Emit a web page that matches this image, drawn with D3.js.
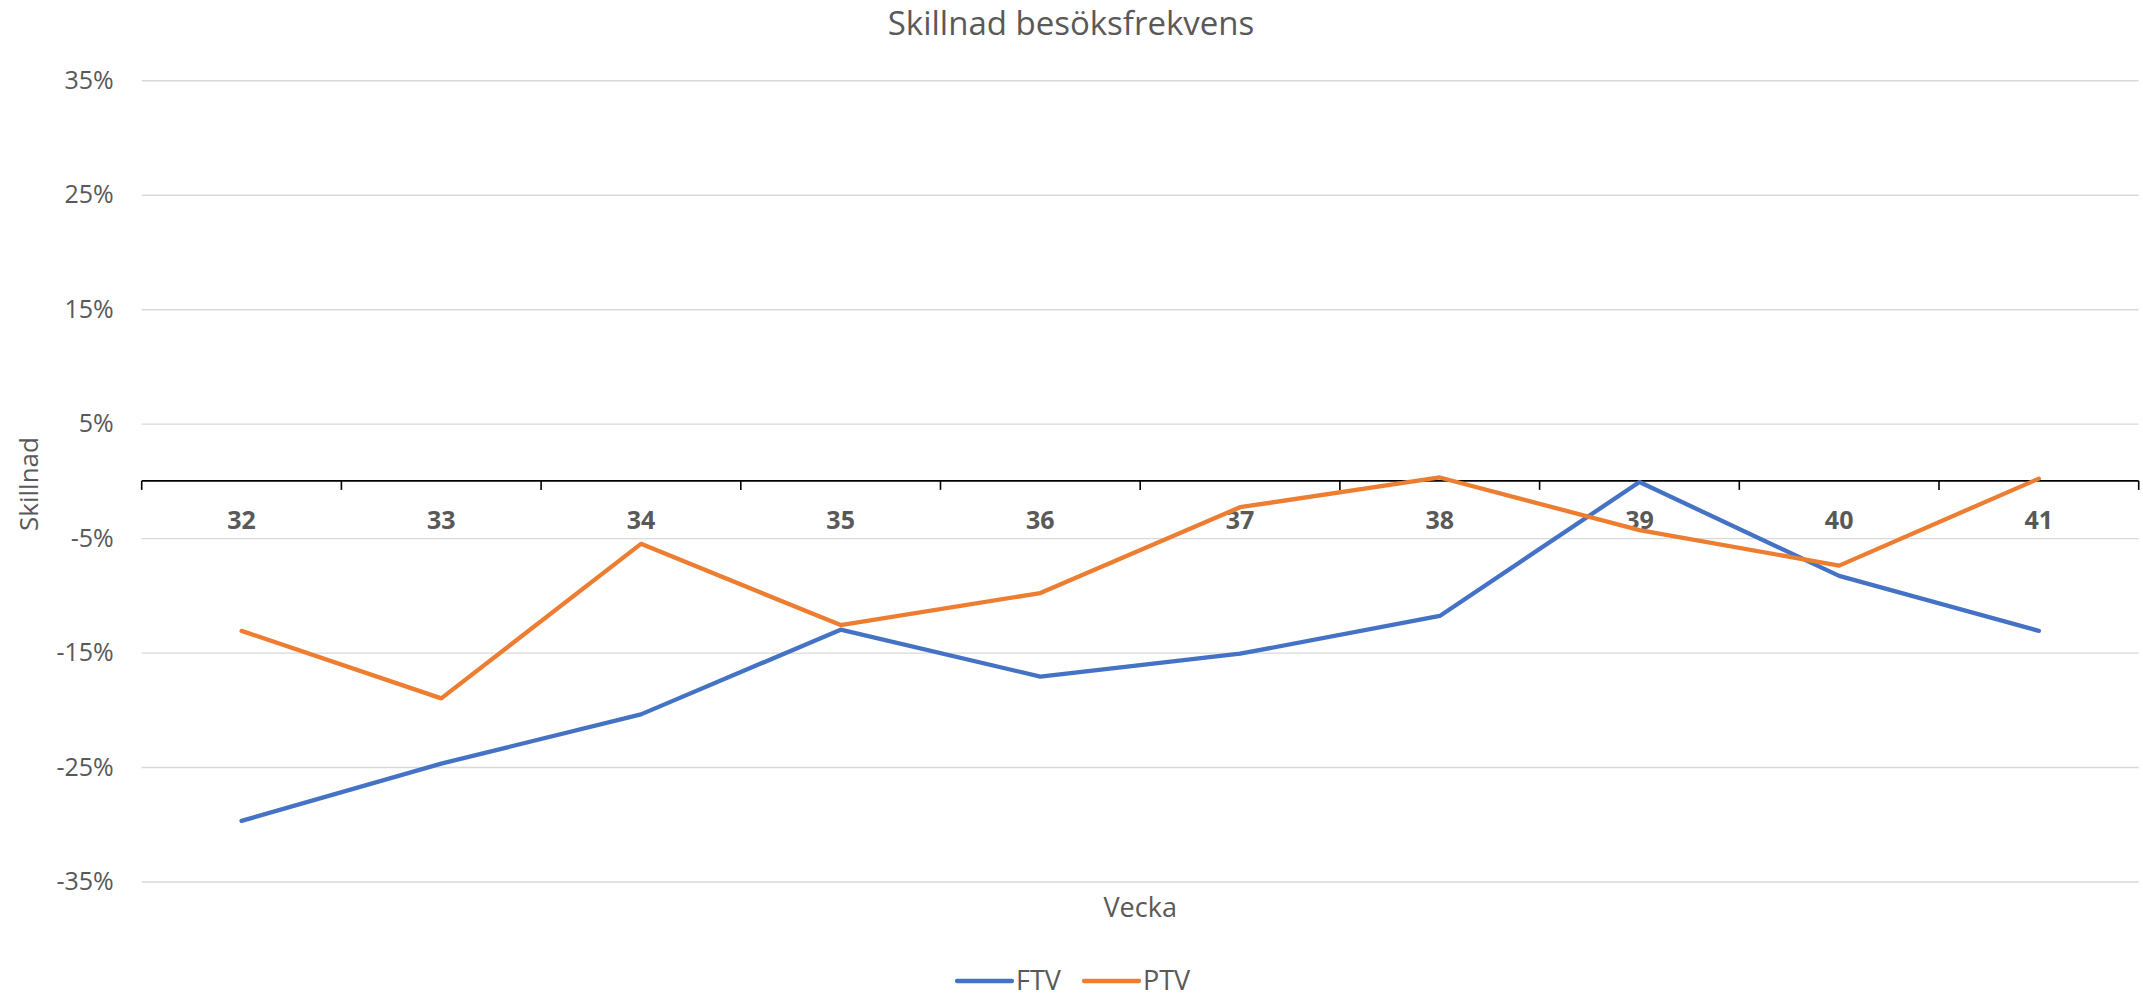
<!DOCTYPE html>
<html>
<head>
<meta charset="utf-8">
<script src="https://cdn.jsdelivr.net/npm/d3@7"></script>
<style>
	body { margin: 0; background: #fff; }
	text { font-family: "Open Sans", "Noto Sans", sans-serif; fill: #595959; }
</style>
</head>
<body>
<div id="chart"></div>
<script>
// data
var weeks = ["32", "33", "34", "35", "36", "37", "38", "39", "40", "41"];
var ftv = [-29.7, -24.7, -20.4, -13.0, -17.1, -15.1, -11.8, -0.1, -8.3, -13.1];
var ptv = [-13.1, -19.0, -5.5, -12.6, -9.8, -2.3, 0.3, -4.3, -7.4, 0.2];
var yTicks = [-35, -25, -15, -5, 5, 15, 25, 35];
var seriesNames = ["FTV", "PTV"];
var seriesColors = ["#4472C4", "#ED7D31"];

var svgWidth = 2143;
var svgHeight = 997;

var margin = {
	top: 80.3,
	right: 4.3,
	bottom: 115.5,
	left: 141.7
};

var width = svgWidth - margin.left - margin.right;
var height = svgHeight - margin.top - margin.bottom;

var svg = d3.select("#chart")
	.append("svg")
	.attr("width", svgWidth)
	.attr("height", svgHeight);

var chartGroup = svg.append("g")
	.attr("transform", `translate(${margin.left}, ${margin.top})`);

var xScale = d3.scaleBand()
	.domain(weeks)
	.range([0, width]);

var yScale = d3.scaleLinear()
	.domain([-35, 35])
	.range([height, 0]);

// gridlines + y labels
var leftAxis = d3.axisLeft(yScale)
	.tickValues(yTicks)
	.tickSize(-width)
	.tickPadding(28)
	.tickFormat(d => d + "%");

var yAxis = chartGroup.append("g").call(leftAxis);
yAxis.select(".domain").remove();
yAxis.selectAll("line")
	.attr("stroke", "#D9D9D9")
	.attr("stroke-width", 1.4);
yAxis.selectAll("text")
	.style("font-size", "25px")
	.style("fill", "#595959");

// category axis at 0
var y0 = yScale(0);
chartGroup.append("line")
	.attr("x1", 0)
	.attr("x2", width)
	.attr("y1", y0)
	.attr("y2", y0)
	.attr("stroke", "#000")
	.attr("stroke-width", 1.6);

var bounds = weeks.map(w => xScale(w)).concat([width]);
chartGroup.selectAll(".xtick")
	.data(bounds)
	.enter()
	.append("line")
	.attr("x1", d => d)
	.attr("x2", d => d)
	.attr("y1", y0)
	.attr("y2", y0 + 9)
	.attr("stroke", "#000")
	.attr("stroke-width", 1.6);

chartGroup.selectAll(".xlabel")
	.data(weeks)
	.enter()
	.append("text")
	.attr("x", d => xScale(d) + xScale.bandwidth() / 2)
	.attr("y", y0 + 38)
	.attr("text-anchor", "middle")
	.attr("dominant-baseline", "central")
	.style("font-size", "25px")
	.style("font-weight", "bold")
	.text(d => d);

// lines
var line = d3.line()
	.x((d, i) => xScale(weeks[i]) + xScale.bandwidth() / 2)
	.y(d => yScale(d));

[ftv, ptv].forEach(function(vals, i) {
	chartGroup.append("path")
		.datum(vals)
		.attr("d", line)
		.attr("fill", "none")
		.attr("stroke", seriesColors[i])
		.attr("stroke-width", 4.3)
		.attr("stroke-linejoin", "round")
		.attr("stroke-linecap", "round");
});

// titles
svg.append("text")
	.attr("x", 1071)
	.attr("y", 35)
	.attr("text-anchor", "middle")
	.style("font-size", "33px")
	.text("Skillnad besöksfrekvens");

svg.append("text")
	.attr("x", margin.left + width / 2)
	.attr("y", 917)
	.attr("text-anchor", "middle")
	.style("font-size", "27px")
	.text("Vecka");

svg.append("text")
	.attr("transform", "rotate(-90)")
	.attr("x", -484)
	.attr("y", 28)
	.attr("text-anchor", "middle")
	.attr("dominant-baseline", "central")
	.style("font-size", "26px")
	.text("Skillnad");

// legend
var legendX = [957, 1084];
var legend = svg.append("g");
seriesNames.forEach(function(name, i) {
	legend.append("line")
		.attr("x1", legendX[i])
		.attr("x2", legendX[i] + 55)
		.attr("y1", 981)
		.attr("y2", 981)
		.attr("stroke", seriesColors[i])
		.attr("stroke-width", 4.3)
		.attr("stroke-linecap", "round");
	legend.append("text")
		.attr("x", legendX[i] + 59)
		.attr("y", 990)
		.style("font-size", "27px")
		.text(name);
});
</script>
</body>
</html>
